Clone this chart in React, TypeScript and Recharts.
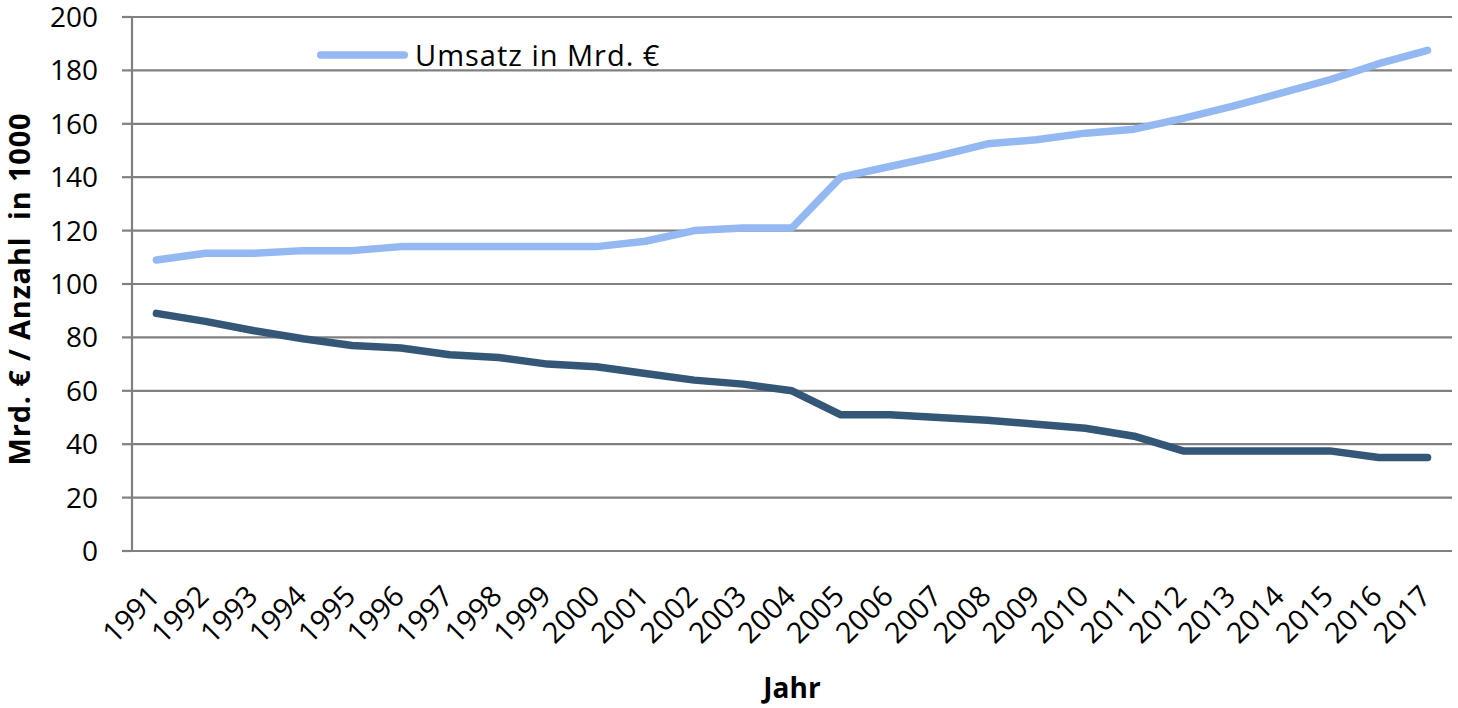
import React from 'react';
import { LineChart, Line, XAxis, YAxis, CartesianGrid, Legend } from 'recharts';

const years = ['1991', '1992', '1993', '1994', '1995', '1996', '1997', '1998', '1999', '2000', '2001', '2002', '2003', '2004', '2005', '2006', '2007', '2008', '2009', '2010', '2011', '2012', '2013', '2014', '2015', '2016', '2017'];
const umsatz = [109, 111.5, 111.5, 112.5, 112.5, 114, 114, 114, 114, 114, 116, 120, 121, 121, 140, 144, 148, 152.5, 154, 156.5, 158, 162, 166.5, 171.5, 176.5, 182.5, 187.5];
const anzahl = [89, 86, 82.5, 79.5, 77, 76, 73.5, 72.5, 70, 69, 66.5, 64, 62.5, 60, 51, 51, 50, 49, 47.5, 46, 43, 37.5, 37.5, 37.5, 37.5, 35, 35];
const yTicks = [0, 20, 40, 60, 80, 100, 120, 140, 160, 180, 200];

const data = years.map((year, i) => ({ pos: i + 0.5, year, umsatz: umsatz[i], anzahl: anzahl[i] }));
const boundaryTicks = years.map((_, i) => i).concat([years.length]);
const centerTicks = years.map((_, i) => i + 0.5);

const FONT = '"Open Sans", sans-serif';
const GRID = '#808080';
const LIGHT = '#94b8f1';
const DARK = '#345677';

function YearTick(props: any) {
  const { x, y, payload } = props;
  const label = years[Math.floor(payload.value)];
  const ax = x - 3;
  const ay = y + 31;
  return (
    <text x={ax} y={ay} transform={`rotate(-45, ${ax}, ${ay})`} textAnchor="end" dominantBaseline="central" fontSize={29} fontFamily={FONT} fill="#000">
      {label}
    </text>
  );
}

function LegendContent() {
  return (
    <div style={{ display: 'flex', alignItems: 'center', fontFamily: FONT, fontSize: 29, letterSpacing: 1, color: '#000', whiteSpace: 'nowrap' }}>
      <svg width={98} height={14} style={{ marginRight: 4 }}>
        <line x1={7.75} y1={7} x2={91.25} y2={7} stroke={LIGHT} strokeWidth={7.5} strokeLinecap="round" />
      </svg>
      <span>Umsatz in Mrd. €</span>
    </div>
  );
}

export default function App() {
  return (
    <div style={{ position: 'absolute', left: 0, top: 0, background: '#fff' }}>
      <LineChart width={1458} height={708} data={data} margin={{ top: 17, right: 6, bottom: 0, left: 0 }}>
        <CartesianGrid xAxisId="lbl" vertical={false} stroke={GRID} strokeWidth={2.2} />
        <XAxis
          xAxisId="grid"
          dataKey="pos"
          type="number"
          domain={[0, 27]}
          ticks={boundaryTicks}
          interval={0}
          height={0}
          tick={false}
          tickSize={10}
          axisLine={{ stroke: GRID, strokeWidth: 2.2 }}
          tickLine={{ stroke: GRID, strokeWidth: 2.2 }}
        />
        <XAxis
          xAxisId="lbl"
          dataKey="pos"
          type="number"
          domain={[0, 27]}
          ticks={centerTicks}
          interval={0}
          height={157}
          axisLine={false}
          tickLine={false}
          tick={<YearTick />}
          label={{ value: 'Jahr', position: 'insideBottom', offset: 10, fontSize: 28, fontWeight: 'bold', fontFamily: FONT, fill: '#000' }}
        />
        <YAxis
          width={132}
          domain={[0, 200]}
          ticks={yTicks}
          interval={0}
          tickSize={10}
          tickMargin={24}
          axisLine={{ stroke: GRID, strokeWidth: 2.2 }}
          tickLine={{ stroke: GRID, strokeWidth: 2.2 }}
          tick={{ fontSize: 28, fontFamily: FONT, fill: '#000' }}
          label={{ value: 'Mrd. € / Anzahl\u00A0 in 1000', angle: -90, position: 'center', dx: -46, dy: 5, fontSize: 29, letterSpacing: 0.8, fontWeight: 'bold', fontFamily: FONT, fill: '#000' }}
        />
        <Legend layout="horizontal" verticalAlign="middle" align="center" content={<LegendContent />} wrapperStyle={{ top: 35, left: 313, width: 'auto' }} />
        <Line xAxisId="lbl" dataKey="umsatz" name="Umsatz in Mrd. €" stroke={LIGHT} strokeWidth={7.5} strokeLinecap="round" strokeLinejoin="round" dot={false} activeDot={false} isAnimationActive={false} />
        <Line xAxisId="lbl" dataKey="anzahl" name="Anzahl" legendType="none" stroke={DARK} strokeWidth={7.5} strokeLinecap="round" strokeLinejoin="round" dot={false} activeDot={false} isAnimationActive={false} />
      </LineChart>
    </div>
  );
}
